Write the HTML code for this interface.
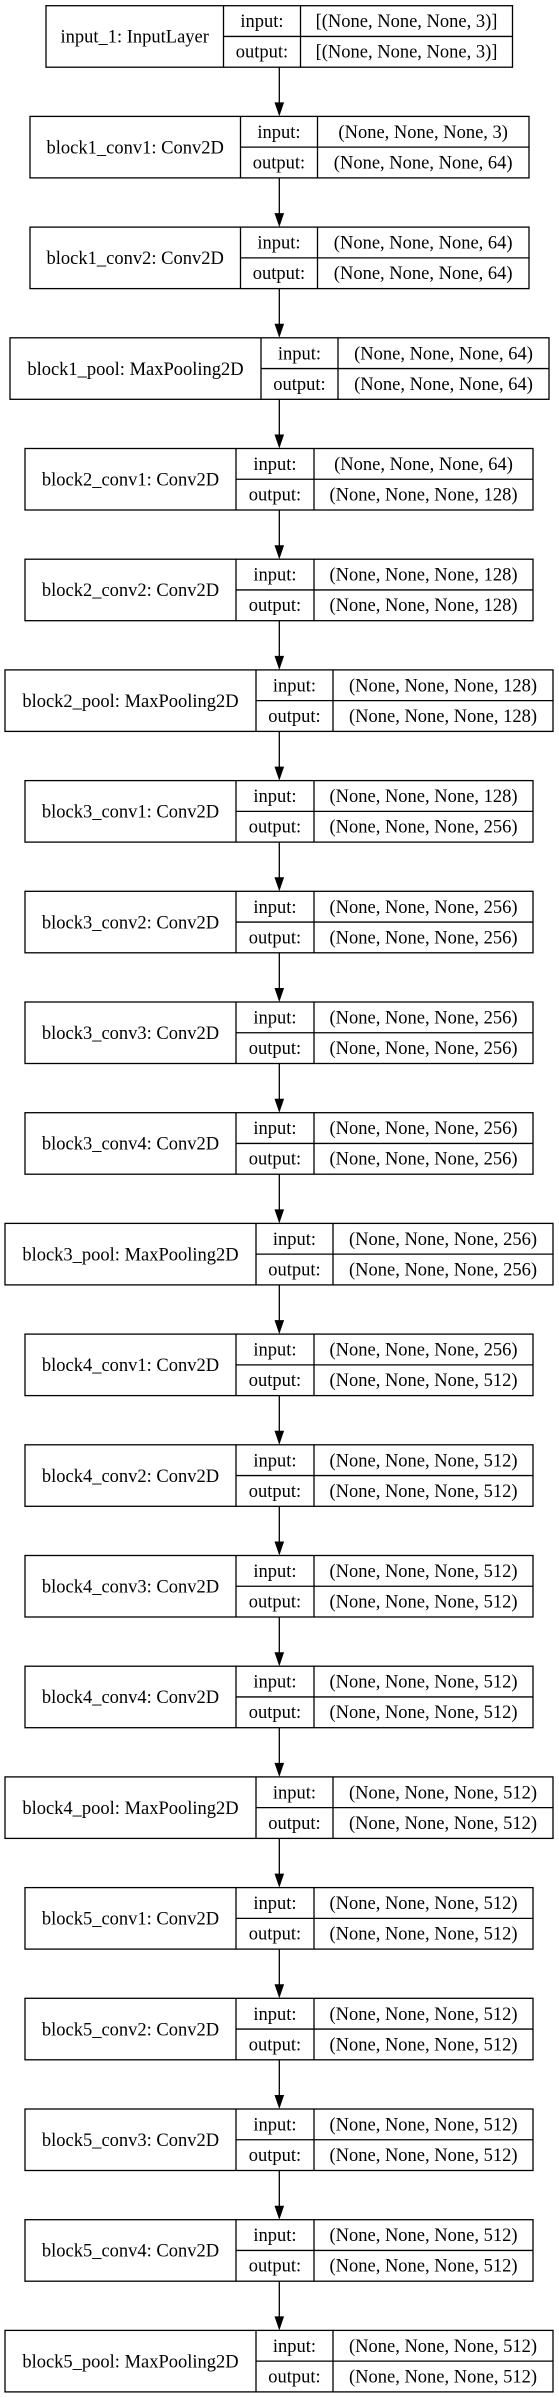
<!DOCTYPE html>
<html><head><meta charset="utf-8"><style>
html,body{margin:0;padding:0;background:#fff;}
svg{display:block;}
text{font-family:"Liberation Serif",serif;font-size:18.5px;fill:#000;text-anchor:middle;}
rect,line{stroke:#000;stroke-width:1.3;fill:none;}
</style></head><body>
<svg width="559" height="2397" viewBox="0 0 559 2397" xmlns="http://www.w3.org/2000/svg">
<defs>
<g id="ar"><line x1="279.3" y1="-49.2" x2="279.3" y2="-13"/><polygon points="274.5,-14 284.1,-14 279.3,0" fill="#000"/></g>
</defs>

<g transform="translate(0,5.7)">
<rect x="46" y="0" width="466.5" height="61.5"/><line x1="223.5" y1="0" x2="223.5" y2="61.5"/><line x1="300.5" y1="0" x2="300.5" y2="61.5"/><line x1="223.5" y1="30.75" x2="512.5" y2="30.75"/>
<text x="134.7" y="37">input_1: InputLayer</text><text x="262" y="21.5">input:</text><text x="262" y="52">output:</text>
<text x="406.5" y="21.5">[(None, None, None, 3)]</text><text x="406.5" y="52">[(None, None, None, 3)]</text>
</g>

<g transform="translate(0,116.4)"><use href="#ar"/>
<rect x="30" y="0" width="499" height="61.5"/><line x1="240.5" y1="0" x2="240.5" y2="61.5"/><line x1="317.5" y1="0" x2="317.5" y2="61.5"/><line x1="240.5" y1="30.75" x2="529" y2="30.75"/>
<text x="135.2" y="37">block1_conv1: Conv2D</text><text x="279" y="21.5">input:</text><text x="279" y="52">output:</text>
<text x="423.2" y="21.5">(None, None, None, 3)</text><text x="423.2" y="52">(None, None, None, 64)</text>
</g>

<g transform="translate(0,227.1)"><use href="#ar"/>
<rect x="30" y="0" width="499" height="61.5"/><line x1="240.5" y1="0" x2="240.5" y2="61.5"/><line x1="317.5" y1="0" x2="317.5" y2="61.5"/><line x1="240.5" y1="30.75" x2="529" y2="30.75"/>
<text x="135.2" y="37">block1_conv2: Conv2D</text><text x="279" y="21.5">input:</text><text x="279" y="52">output:</text>
<text x="423.2" y="21.5">(None, None, None, 64)</text><text x="423.2" y="52">(None, None, None, 64)</text>
</g>

<g transform="translate(0,337.8)"><use href="#ar"/>
<rect x="10" y="0" width="539" height="61.5"/><line x1="261" y1="0" x2="261" y2="61.5"/><line x1="338" y1="0" x2="338" y2="61.5"/><line x1="261" y1="30.75" x2="549" y2="30.75"/>
<text x="135.5" y="37">block1_pool: MaxPooling2D</text><text x="299.5" y="21.5">input:</text><text x="299.5" y="52">output:</text>
<text x="443.5" y="21.5">(None, None, None, 64)</text><text x="443.5" y="52">(None, None, None, 64)</text>
</g>

<g transform="translate(0,448.5)"><use href="#ar"/>
<rect x="25" y="0" width="508" height="61.5"/><line x1="236" y1="0" x2="236" y2="61.5"/><line x1="314" y1="0" x2="314" y2="61.5"/><line x1="236" y1="30.75" x2="533" y2="30.75"/>
<text x="130.5" y="37">block2_conv1: Conv2D</text><text x="275" y="21.5">input:</text><text x="275" y="52">output:</text>
<text x="423.5" y="21.5">(None, None, None, 64)</text><text x="423.5" y="52">(None, None, None, 128)</text>
</g>

<g transform="translate(0,559.2)"><use href="#ar"/>
<rect x="25" y="0" width="508" height="61.5"/><line x1="236" y1="0" x2="236" y2="61.5"/><line x1="314" y1="0" x2="314" y2="61.5"/><line x1="236" y1="30.75" x2="533" y2="30.75"/>
<text x="130.5" y="37">block2_conv2: Conv2D</text><text x="275" y="21.5">input:</text><text x="275" y="52">output:</text>
<text x="423.5" y="21.5">(None, None, None, 128)</text><text x="423.5" y="52">(None, None, None, 128)</text>
</g>

<g transform="translate(0,669.9)"><use href="#ar"/>
<rect x="5" y="0" width="548" height="61.5"/><line x1="256" y1="0" x2="256" y2="61.5"/><line x1="333" y1="0" x2="333" y2="61.5"/><line x1="256" y1="30.75" x2="553" y2="30.75"/>
<text x="130.5" y="37">block2_pool: MaxPooling2D</text><text x="294.5" y="21.5">input:</text><text x="294.5" y="52">output:</text>
<text x="443" y="21.5">(None, None, None, 128)</text><text x="443" y="52">(None, None, None, 128)</text>
</g>

<g transform="translate(0,780.6)"><use href="#ar"/>
<rect x="25" y="0" width="508" height="61.5"/><line x1="236" y1="0" x2="236" y2="61.5"/><line x1="314" y1="0" x2="314" y2="61.5"/><line x1="236" y1="30.75" x2="533" y2="30.75"/>
<text x="130.5" y="37">block3_conv1: Conv2D</text><text x="275" y="21.5">input:</text><text x="275" y="52">output:</text>
<text x="423.5" y="21.5">(None, None, None, 128)</text><text x="423.5" y="52">(None, None, None, 256)</text>
</g>

<g transform="translate(0,891.3)"><use href="#ar"/>
<rect x="25" y="0" width="508" height="61.5"/><line x1="236" y1="0" x2="236" y2="61.5"/><line x1="314" y1="0" x2="314" y2="61.5"/><line x1="236" y1="30.75" x2="533" y2="30.75"/>
<text x="130.5" y="37">block3_conv2: Conv2D</text><text x="275" y="21.5">input:</text><text x="275" y="52">output:</text>
<text x="423.5" y="21.5">(None, None, None, 256)</text><text x="423.5" y="52">(None, None, None, 256)</text>
</g>

<g transform="translate(0,1002)"><use href="#ar"/>
<rect x="25" y="0" width="508" height="61.5"/><line x1="236" y1="0" x2="236" y2="61.5"/><line x1="314" y1="0" x2="314" y2="61.5"/><line x1="236" y1="30.75" x2="533" y2="30.75"/>
<text x="130.5" y="37">block3_conv3: Conv2D</text><text x="275" y="21.5">input:</text><text x="275" y="52">output:</text>
<text x="423.5" y="21.5">(None, None, None, 256)</text><text x="423.5" y="52">(None, None, None, 256)</text>
</g>

<g transform="translate(0,1112.7)"><use href="#ar"/>
<rect x="25" y="0" width="508" height="61.5"/><line x1="236" y1="0" x2="236" y2="61.5"/><line x1="314" y1="0" x2="314" y2="61.5"/><line x1="236" y1="30.75" x2="533" y2="30.75"/>
<text x="130.5" y="37">block3_conv4: Conv2D</text><text x="275" y="21.5">input:</text><text x="275" y="52">output:</text>
<text x="423.5" y="21.5">(None, None, None, 256)</text><text x="423.5" y="52">(None, None, None, 256)</text>
</g>

<g transform="translate(0,1223.4)"><use href="#ar"/>
<rect x="5" y="0" width="548" height="61.5"/><line x1="256" y1="0" x2="256" y2="61.5"/><line x1="333" y1="0" x2="333" y2="61.5"/><line x1="256" y1="30.75" x2="553" y2="30.75"/>
<text x="130.5" y="37">block3_pool: MaxPooling2D</text><text x="294.5" y="21.5">input:</text><text x="294.5" y="52">output:</text>
<text x="443" y="21.5">(None, None, None, 256)</text><text x="443" y="52">(None, None, None, 256)</text>
</g>

<g transform="translate(0,1334.1)"><use href="#ar"/>
<rect x="25" y="0" width="508" height="61.5"/><line x1="236" y1="0" x2="236" y2="61.5"/><line x1="314" y1="0" x2="314" y2="61.5"/><line x1="236" y1="30.75" x2="533" y2="30.75"/>
<text x="130.5" y="37">block4_conv1: Conv2D</text><text x="275" y="21.5">input:</text><text x="275" y="52">output:</text>
<text x="423.5" y="21.5">(None, None, None, 256)</text><text x="423.5" y="52">(None, None, None, 512)</text>
</g>

<g transform="translate(0,1444.8)"><use href="#ar"/>
<rect x="25" y="0" width="508" height="61.5"/><line x1="236" y1="0" x2="236" y2="61.5"/><line x1="314" y1="0" x2="314" y2="61.5"/><line x1="236" y1="30.75" x2="533" y2="30.75"/>
<text x="130.5" y="37">block4_conv2: Conv2D</text><text x="275" y="21.5">input:</text><text x="275" y="52">output:</text>
<text x="423.5" y="21.5">(None, None, None, 512)</text><text x="423.5" y="52">(None, None, None, 512)</text>
</g>

<g transform="translate(0,1555.5)"><use href="#ar"/>
<rect x="25" y="0" width="508" height="61.5"/><line x1="236" y1="0" x2="236" y2="61.5"/><line x1="314" y1="0" x2="314" y2="61.5"/><line x1="236" y1="30.75" x2="533" y2="30.75"/>
<text x="130.5" y="37">block4_conv3: Conv2D</text><text x="275" y="21.5">input:</text><text x="275" y="52">output:</text>
<text x="423.5" y="21.5">(None, None, None, 512)</text><text x="423.5" y="52">(None, None, None, 512)</text>
</g>

<g transform="translate(0,1666.2)"><use href="#ar"/>
<rect x="25" y="0" width="508" height="61.5"/><line x1="236" y1="0" x2="236" y2="61.5"/><line x1="314" y1="0" x2="314" y2="61.5"/><line x1="236" y1="30.75" x2="533" y2="30.75"/>
<text x="130.5" y="37">block4_conv4: Conv2D</text><text x="275" y="21.5">input:</text><text x="275" y="52">output:</text>
<text x="423.5" y="21.5">(None, None, None, 512)</text><text x="423.5" y="52">(None, None, None, 512)</text>
</g>

<g transform="translate(0,1776.9)"><use href="#ar"/>
<rect x="5" y="0" width="548" height="61.5"/><line x1="256" y1="0" x2="256" y2="61.5"/><line x1="333" y1="0" x2="333" y2="61.5"/><line x1="256" y1="30.75" x2="553" y2="30.75"/>
<text x="130.5" y="37">block4_pool: MaxPooling2D</text><text x="294.5" y="21.5">input:</text><text x="294.5" y="52">output:</text>
<text x="443" y="21.5">(None, None, None, 512)</text><text x="443" y="52">(None, None, None, 512)</text>
</g>

<g transform="translate(0,1887.6)"><use href="#ar"/>
<rect x="25" y="0" width="508" height="61.5"/><line x1="236" y1="0" x2="236" y2="61.5"/><line x1="314" y1="0" x2="314" y2="61.5"/><line x1="236" y1="30.75" x2="533" y2="30.75"/>
<text x="130.5" y="37">block5_conv1: Conv2D</text><text x="275" y="21.5">input:</text><text x="275" y="52">output:</text>
<text x="423.5" y="21.5">(None, None, None, 512)</text><text x="423.5" y="52">(None, None, None, 512)</text>
</g>

<g transform="translate(0,1998.3)"><use href="#ar"/>
<rect x="25" y="0" width="508" height="61.5"/><line x1="236" y1="0" x2="236" y2="61.5"/><line x1="314" y1="0" x2="314" y2="61.5"/><line x1="236" y1="30.75" x2="533" y2="30.75"/>
<text x="130.5" y="37">block5_conv2: Conv2D</text><text x="275" y="21.5">input:</text><text x="275" y="52">output:</text>
<text x="423.5" y="21.5">(None, None, None, 512)</text><text x="423.5" y="52">(None, None, None, 512)</text>
</g>

<g transform="translate(0,2109)"><use href="#ar"/>
<rect x="25" y="0" width="508" height="61.5"/><line x1="236" y1="0" x2="236" y2="61.5"/><line x1="314" y1="0" x2="314" y2="61.5"/><line x1="236" y1="30.75" x2="533" y2="30.75"/>
<text x="130.5" y="37">block5_conv3: Conv2D</text><text x="275" y="21.5">input:</text><text x="275" y="52">output:</text>
<text x="423.5" y="21.5">(None, None, None, 512)</text><text x="423.5" y="52">(None, None, None, 512)</text>
</g>

<g transform="translate(0,2219.7)"><use href="#ar"/>
<rect x="25" y="0" width="508" height="61.5"/><line x1="236" y1="0" x2="236" y2="61.5"/><line x1="314" y1="0" x2="314" y2="61.5"/><line x1="236" y1="30.75" x2="533" y2="30.75"/>
<text x="130.5" y="37">block5_conv4: Conv2D</text><text x="275" y="21.5">input:</text><text x="275" y="52">output:</text>
<text x="423.5" y="21.5">(None, None, None, 512)</text><text x="423.5" y="52">(None, None, None, 512)</text>
</g>

<g transform="translate(0,2330.4)"><use href="#ar"/>
<rect x="5" y="0" width="548" height="61.5"/><line x1="256" y1="0" x2="256" y2="61.5"/><line x1="333" y1="0" x2="333" y2="61.5"/><line x1="256" y1="30.75" x2="553" y2="30.75"/>
<text x="130.5" y="37">block5_pool: MaxPooling2D</text><text x="294.5" y="21.5">input:</text><text x="294.5" y="52">output:</text>
<text x="443" y="21.5">(None, None, None, 512)</text><text x="443" y="52">(None, None, None, 512)</text>
</g>
</svg>
</body></html>
